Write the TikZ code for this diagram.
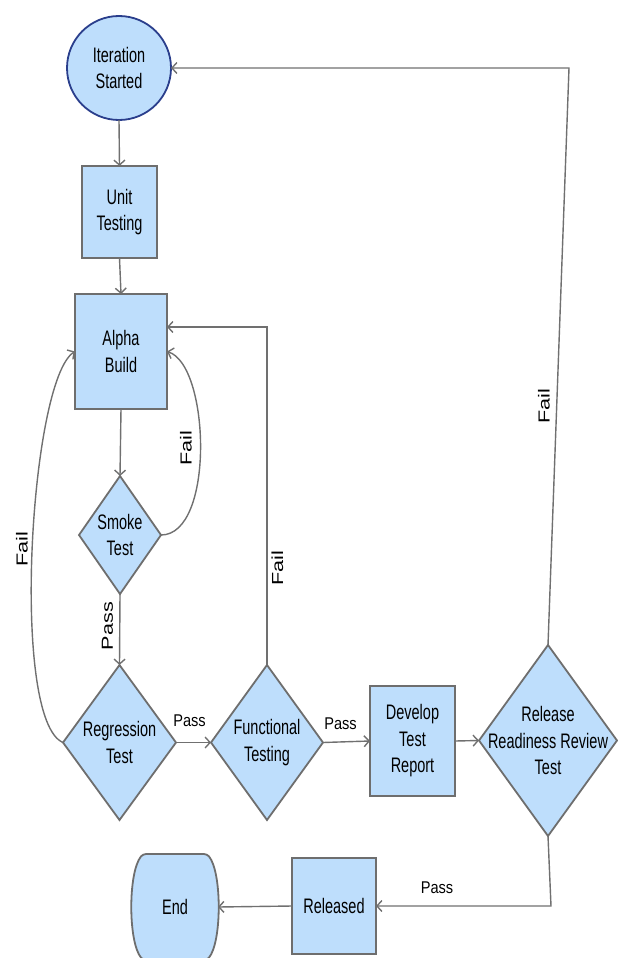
\documentclass[tikz,border=0pt]{standalone}
\usepackage{fontspec}
\setmainfont{Liberation Sans}
\newfontfamily\nodefont[FakeStretch=0.69]{Liberation Sans}
\newfontfamily\lblfont[FakeStretch=0.86]{Liberation Sans}
\usetikzlibrary{shapes.geometric,arrows.meta}
\definecolor{fillblue}{RGB}{190,222,252}
\definecolor{edgegray}{RGB}{110,110,110}
\definecolor{linegray}{RGB}{112,112,112}
\definecolor{circblue}{RGB}{42,62,140}
\begin{document}
\begin{tikzpicture}[x=1pt,y=-1pt,
  base/.style={fill=fillblue,draw=edgegray,line width=1.8pt,inner sep=0pt,outer sep=0pt,
    font=\nodefont\fontsize{21}{26.5}\selectfont,align=center},
  boxnode/.style={base,rectangle},
  dia/.style={base,diamond},
  circ/.style={base,circle,draw=circblue,minimum size=104pt},
  arr/.style={draw=linegray,line width=1.4pt,-{Straight Barb[length=5pt,width=11pt]}},
  hlbl/.style={font=\lblfont\fontsize{17}{19}\selectfont,inner sep=0pt},
  vlbl/.style={font=\fontsize{16}{18}\selectfont,inner sep=0pt,rotate=90}]
\useasboundingbox (0,0) rectangle (618,958);

% nodes
\node[circ] (start) at (119,68) {Iteration\\Started};
\node[boxnode,minimum width=75pt,minimum height=92pt] (unit) at (119.5,212) {Unit\\Testing};
\node[boxnode,minimum width=92pt,minimum height=115pt] (alpha) at (121,351.5) {Alpha\\Build};
\node[dia,minimum width=82pt,minimum height=118pt,
  label={[base,fill=none,draw=none]center:Smoke\\Test}] (smoke) at (120,535) {};
\node[dia,minimum width=113pt,minimum height=155pt,
  label={[base,fill=none,draw=none]center:Regression\\Test}] (reg) at (119.5,742.5) {};
\node[dia,minimum width=112pt,minimum height=155pt,
  label={[base,fill=none,draw=none]center:Functional\\Testing}] (func) at (267,742.5) {};
\node[boxnode,minimum width=85pt,minimum height=110pt] (dev) at (412.5,741) {Develop\\Test\\Report};
\node[dia,minimum width=138pt,minimum height=191pt,
  label={[base,fill=none,draw=none]center:Release\\Readiness Review\\Test}] (rel) at (548,740.5) {};
\node[boxnode,minimum width=84pt,minimum height=96pt] (released) at (334,906) {Released};

% End terminal
\draw[fill=fillblue,draw=edgegray,line width=1.8pt,rounded corners=3pt]
  (175,854) -- (207,854) .. controls (222,872) and (222,942) .. (207,960)
  -- (143,960) .. controls (128,942) and (128,872) .. (143,854) -- cycle;
\node[base,fill=none,draw=none,minimum width=86pt,minimum height=100pt] (end) at (175,907) {End};

% helper coordinates
\coordinate (ffc) at (267,327);
\coordinate (rc) at (569,68);
\coordinate (bc) at (551,906);

% connectors
\draw[arr] (start.south) -- (unit.north);
\draw[arr] (unit.south) -- (alpha.north);
\draw[arr] (alpha.south) -- (smoke.north);
\draw[arr] (smoke.east) .. controls (215,535) and (210,365) .. (alpha.east);
\draw[arr] (smoke.south) -- (reg.north);
\draw[arr] (reg.west) .. controls (10,720) and (30,380) .. (alpha.west);
\draw[arr] (reg.east) -- (func.west);
\draw[arr] (func.north) -- (ffc) -- (ffc -| alpha.east);
\draw[arr] (func.east) -- (dev.west);
\draw[arr] (dev.east) -- (rel.west);
\draw[arr] (rel.north) -- (rc) -- (start.east);
\draw[arr] (rel.south) -- (bc) -- (released.east);
\draw[arr] (released.west) -- (end.east);

% labels
\node[vlbl] (l1) at (186,448) {\scalebox{1.35}[1]{Fail}};
\node[vlbl] (l2) at (22,549) {\scalebox{1.35}[1]{Fail}};
\node[vlbl] (l3) at (107.5,626) {\scalebox{1.35}[1]{Pass}};
\node[vlbl] (l4) at (277.5,568) {\scalebox{1.35}[1]{Fail}};
\node[vlbl] (l5) at (544,406) {\scalebox{1.35}[1]{Fail}};
\node[hlbl] (l6) at (189.5,721) {Pass};
\node[hlbl] (l7) at (340.5,724) {Pass};
\node[hlbl] (l8) at (437,888) {Pass};
\end{tikzpicture}
\end{document}
